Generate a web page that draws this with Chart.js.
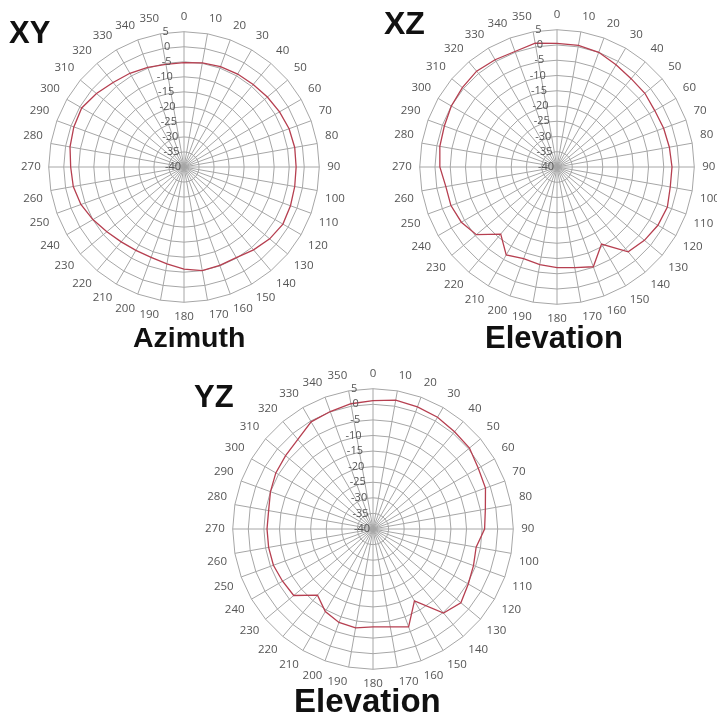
<!DOCTYPE html>
<html>
<head>
<meta charset="utf-8">
<script src="https://cdn.jsdelivr.net/npm/chart.js@4.4.1/dist/chart.umd.min.js"></script>
<style>
  html, body { margin: 0; padding: 0; background: #fff; }
  body { width: 717px; height: 721px; position: relative; overflow: hidden; }
  canvas { position: absolute; }
  .lbl { position: absolute; font-family: "Liberation Sans", Arial, sans-serif; font-weight: bold; color: #111; white-space: nowrap; line-height: 1; }
</style>
</head>
<body>
<canvas id="xyChart" width="326" height="326" style="left:20px;top:5px"></canvas>
<canvas id="xzChart" width="330" height="330" style="left:391px;top:3px"></canvas>
<canvas id="yzChart" width="337" height="337" style="left:204px;top:361px"></canvas>

<div class="lbl" style="left:9px;top:17px;font-size:31px">XY</div>
<div class="lbl" style="left:384px;top:7px;font-size:32px">XZ</div>
<div class="lbl" style="left:194px;top:381px;font-size:31px">YZ</div>
<div class="lbl" style="left:133px;top:323px;font-size:28.5px">Azimuth</div>
<div class="lbl" style="left:485px;top:322px;font-size:31px">Elevation</div>
<div class="lbl" style="left:294px;top:684px;font-size:33px">Elevation</div>

<script>
// angle categories (degrees)
const angles = ['0','10','20','30','40','50','60','70','80','90','100','110','120','130','140','150','160','170',
                '180','190','200','210','220','230','240','250','260','270','280','290','300','310','320','330','340','350'];

// radial ticks (dB)
const rTicks = [-40, -35, -30, -25, -20, -15, -10, -5, 0, 5];

// XY plane - azimuth
const xyGain = [-5.3, -4.8, -4.5, -4.3, -4.2, -3.8, -3.3, -2.8, -2.6, -2.7, -2.6, -2.3, -2.0, -2.8, -4.0, -5.2, -5.2, -5.0,
                -6.0, -7.3, -8.0, -8.0, -7.5, -6.5, -5.0, -3.5, -2.6, -2.3, -1.5, -1.0, -0.7, -2.0, -3.3, -4.0, -4.7, -5.3];

// XZ plane - elevation
const xzGain = [0.5, 0.5, 0.0, -1.3, -2.2, -2.4, -3.0, -2.8, -2.6, -2.3, -2.3, -1.5, -1.8, -2.6, -3.7, -10.8, -5.2, -6.5,
                -7.0, -7.5, -8.0, -6.7, -11.3, -5.5, -3.8, -3.0, -3.0, -1.6, -1.0, -0.7, 0.0, 0.5, 1.0, 0.6, 0.3, 1.2];

// YZ plane - elevation
const yzGain = [1.2, 2.0, 1.7, 1.4, 0.7, 0.4, -1.0, -1.6, -3.4, -4.2, -6.4, -5.7, -4.7, -3.2, -4.8, -13.4, -6.6, -8.1,
                -8.6, -7.8, -8.1, -9.4, -12.3, -6.8, -6.5, -6.0, -6.0, -6.0, -6.0, -5.0, -4.0, -3.4, -2.5, -0.3, 0.1, 0.8];

const gridColor = '#a6a6a6';
const textColor = '#555';

// draw the dB tick labels just left of the 0 degree spoke, like Excel does
const tickLabels = {
  id: 'tickLabels',
  afterDraw(chart) {
    const r = chart.scales.r;
    const ctx = chart.ctx;
    ctx.save();
    ctx.font = '11px "Open Sans", sans-serif';
    ctx.fillStyle = textColor;
    ctx.textAlign = 'right';
    ctx.textBaseline = 'middle';
    rTicks.forEach(v => {
      const d = r.getDistanceFromCenterForValue(v);
      ctx.fillText(String(v), r.xCenter - 3 - d * 0.09, r.yCenter - d);
    });
    ctx.restore();
  }
};

function makeRadar(id, values) {
  const ctx = document.getElementById(id).getContext('2d');
  return new Chart(ctx, {
    type: 'radar',
    data: {
      labels: angles,
      datasets: [{
        data: values,
        borderColor: '#b63f50',
        borderWidth: 1.3,
        pointRadius: 0,
        fill: false,
        tension: 0
      }]
    },
    options: {
      responsive: false,
      animation: false,
      devicePixelRatio: 1,
      plugins: { legend: { display: false }, tooltip: { enabled: false } },
      scales: {
        r: {
          min: -40,
          max: 5,
          ticks: { display: false, stepSize: 5 },
          grid: { color: gridColor, lineWidth: 1 },
          angleLines: { color: gridColor, lineWidth: 1 },
          pointLabels: {
            padding: 8,
            color: textColor,
            font: { family: '"Open Sans", sans-serif', size: 11.5 }
          }
        }
      }
    },
    plugins: [tickLabels]
  });
}

makeRadar('xyChart', xyGain);
makeRadar('xzChart', xzGain);
makeRadar('yzChart', yzGain);
</script>
</body>
</html>
